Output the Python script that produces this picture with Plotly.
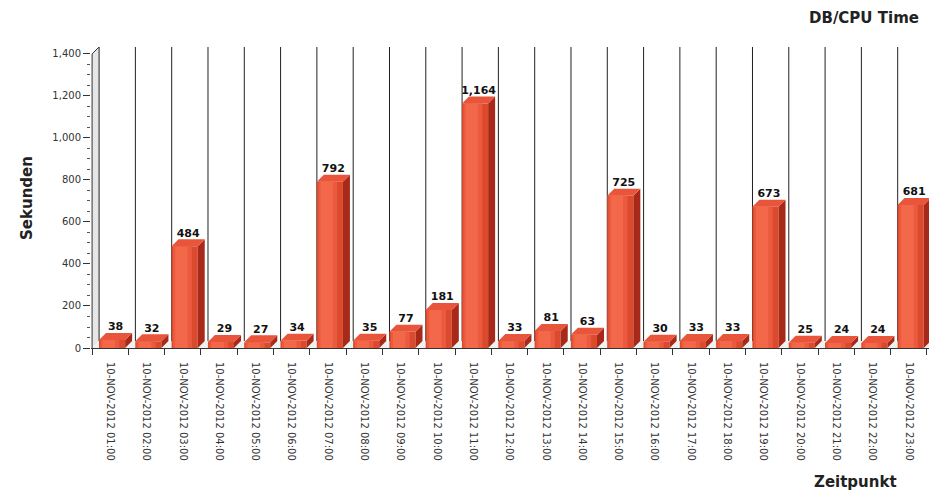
import plotly.graph_objects as go

hours = ["01:00", "02:00", "03:00", "04:00", "05:00", "06:00", "07:00", "08:00",
         "09:00", "10:00", "11:00", "12:00", "13:00", "14:00", "15:00", "16:00",
         "17:00", "18:00", "19:00", "20:00", "21:00", "22:00", "23:00"]
labels = ["10-NOV-2012 " + h for h in hours]
values = [38, 32, 484, 29, 27, 34, 792, 35, 77, 181, 1164, 33, 81, 63, 725,
          30, 33, 33, 673, 25, 24, 24, 681]
y_ticks = [0, 200, 400, 600, 800, 1000, 1200, 1400]

W, H = 929, 499
L, T, B = 91, 47, 151
plot_w = W - L
plot_h = H - T - B
cat_px = 36.3
x0r = -0.53
x1r = x0r + plot_w / cat_px
y_top = 1433
dx = 7 / cat_px
dy = 7 * y_top / plot_h

def px(xp):
    return (xp - L) / plot_w

def py(yp):
    return (H - B - yp) / plot_h

idx = list(range(len(values)))
FRONT_OFF, FRONT_W = -0.31, 0.72

fig = go.Figure()
fig.add_trace(go.Bar(x=idx, y=values, offset=FRONT_OFF, width=FRONT_W,
                     marker=dict(color="#dc4a2e", line=dict(width=0)),
                     hoverinfo="skip", showlegend=False))
fig.add_trace(go.Bar(x=idx, y=values, offset=FRONT_OFF + 0.04, width=0.52,
                     marker=dict(color="#eb5a3e", line=dict(width=0)),
                     hoverinfo="skip", showlegend=False))
fig.add_trace(go.Bar(x=idx, y=values, offset=FRONT_OFF + 0.1, width=0.34,
                     marker=dict(color="#f26849", line=dict(width=0)),
                     hoverinfo="skip", showlegend=False))
fig.add_trace(go.Scatter(x=[i + FRONT_OFF + (FRONT_W + dx) / 2 for i in idx],
                         y=[v + dy for v in values],
                         text=[f"{v:,}" for v in values], mode="text",
                         textposition="top center",
                         textfont=dict(family="DejaVu Sans", size=11, color="#111", weight="bold"),
                         hoverinfo="skip", showlegend=False))

shapes = []
# left wall
shapes.append(dict(type="path", xref="x", yref="y", layer="below",
                   path=f"M{-0.5},0 L{-0.5+dx},{dy} L{-0.5+dx},{1400+dy} L{-0.5},1400 Z",
                   fillcolor="#e6e6e6", line=dict(width=0)))
# floor
shapes.append(dict(type="path", xref="x", yref="y", layer="below",
                   path=f"M{-0.5},0 L{-0.5+dx},{dy} L{x1r+1},{dy} L{x1r+1},0 Z",
                   fillcolor="#eef2ee", line=dict(width=0)))
# back wall grid lines
for k in range(len(values) + 1):
    xg = k - 0.5 + dx
    shapes.append(dict(type="line", xref="x", yref="y", layer="below",
                       x0=xg, x1=xg, y0=dy, y1=y_top,
                       line=dict(color="#222", width=1)))
# left axis line with depth diagonal
shapes.append(dict(type="path", xref="x", yref="y", layer="above",
                   path=f"M{-0.5},0 L{-0.5},1400 L{-0.5+dx},{1400+dy}",
                   line=dict(color="#333", width=1)))
# 3D side and top faces of bars
for i, v in zip(idx, values):
    xa = i + FRONT_OFF
    xb = xa + FRONT_W
    shapes.append(dict(type="path", xref="x", yref="y", layer="above",
                       path=f"M{xb},0 L{xb+dx},{dy} L{xb+dx},{v+dy} L{xb},{v} Z",
                       fillcolor="#a8281a", line=dict(width=0)))
    shapes.append(dict(type="path", xref="x", yref="y", layer="above",
                       path=f"M{xa},{v} L{xa+dx},{v+dy} L{xb+dx},{v+dy} L{xb},{v} Z",
                       fillcolor="#e8553a", line=dict(width=0)))

annotations = [
    dict(text="<b>DB/CPU Time</b>", xref="paper", yref="paper", x=px(921), y=py(18),
         xanchor="right", yanchor="middle", showarrow=False,
         font=dict(family="DejaVu Sans", size=15, color="#222")),
    dict(text="<b>Sekunden</b>", xref="paper", yref="paper", x=px(27), y=py(198),
         xanchor="center", yanchor="middle", textangle=-90, showarrow=False,
         font=dict(family="DejaVu Sans", size=15, color="#222")),
    dict(text="<b>Zeitpunkt</b>", xref="paper", yref="paper", x=px(855), y=py(482),
         xanchor="center", yanchor="middle", showarrow=False,
         font=dict(family="DejaVu Sans", size=15, color="#222")),
]

fig.update_layout(
    width=W, height=H, barmode="overlay",
    margin=dict(l=L, r=0, t=T, b=B, pad=0),
    paper_bgcolor="white", plot_bgcolor="white",
    shapes=shapes, annotations=annotations, showlegend=False,
    xaxis=dict(range=[x0r, x1r], tickmode="array", tickvals=idx, ticktext=labels,
               tickangle=90, ticks="", showgrid=False, zeroline=False,
               showline=True, linecolor="#333", linewidth=1,
               ticklabelstandoff=11,
               tickfont=dict(family="DejaVu Sans", size=10, color="#333"),
               minor=dict(tickmode="linear", tick0=-0.5, dtick=1, ticks="outside",
                          ticklen=6, tickcolor="#333", showgrid=False)),
    yaxis=dict(range=[0, y_top], tickmode="array", tickvals=y_ticks,
               tickformat=",", ticks="outside", ticklen=7, tickcolor="#333",
               showgrid=False, zeroline=False, showline=False,
               tickfont=dict(family="DejaVu Sans", size=10, color="#333"),
               minor=dict(tickmode="linear", tick0=0, dtick=50, ticks="outside",
                          ticklen=3, tickcolor="#555", showgrid=False)),
)

fig.write_html("out.html")
